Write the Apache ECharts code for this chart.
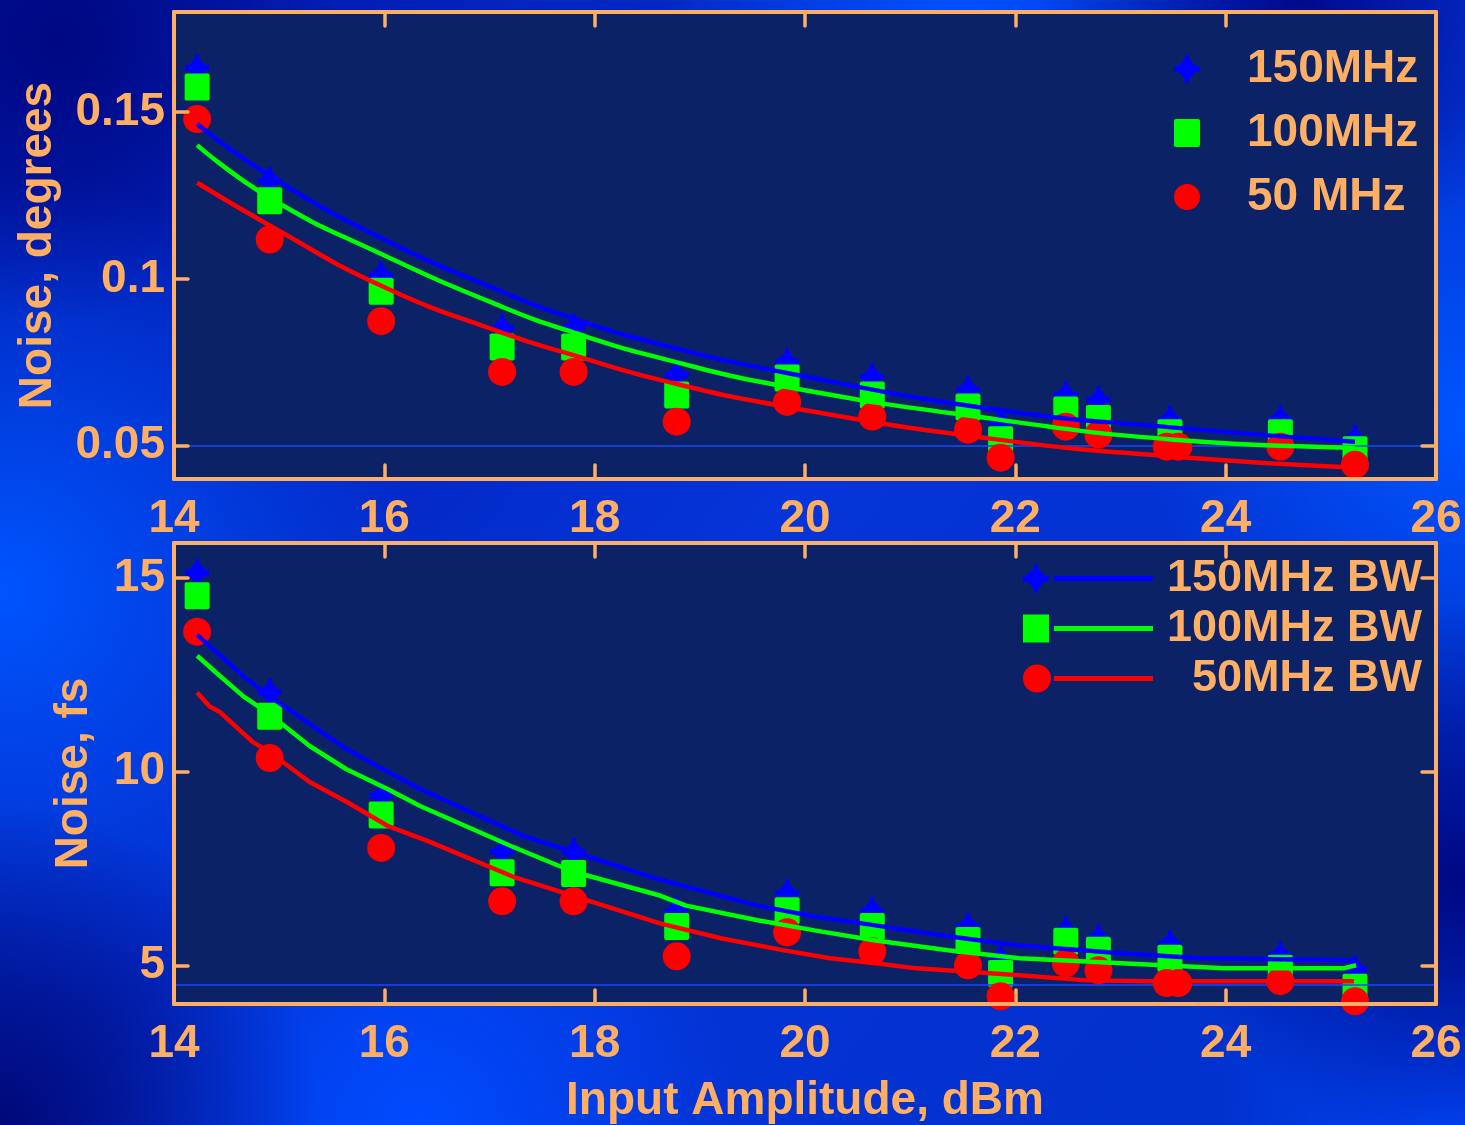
<!DOCTYPE html>
<html>
<head>
<meta charset="utf-8">
<script src="https://cdn.jsdelivr.net/npm/echarts@6/dist/echarts.min.js"></script>
<style>
html,body{margin:0;padding:0;background:#0530c8;}
#chart{width:1465px;height:1125px;}
</style>
</head>
<body>
<div id="chart"></div>
<script>
// ---------- data ----------
const xTickLabels = [14, 16, 18, 20, 22, 24, 26];
const topTickLabels = [0.05, 0.1, 0.15];
const topRightTicks = [0.05];
const botTickLabels = [5, 10, 15];

const names150 = '150MHz', names100 = '100MHz', names50 = '50 MHz';
const namesBW150 = '150MHz BW', namesBW100 = '100MHz BW', namesBW50 = '50MHz BW';

// measured points (shared x for 150 / 100 MHz)
const measX   = [14.22, 14.91, 15.97, 17.12, 17.80, 18.78, 19.83, 20.64, 21.55, 21.86, 22.48, 22.79, 23.47, 24.52, 25.23];
const meas50X = [14.22, 14.91, 15.97, 17.12, 17.80, 18.78, 19.83, 20.64, 21.55, 21.86, 22.48, 22.79, 23.44, 23.55, 24.52, 25.23];

// top panel: noise, degrees
const top150 = [0.1631, 0.1294, 0.1010, 0.0852, 0.0855, 0.0712, 0.0751, 0.0706, 0.0667, 0.0570, 0.0652, 0.0637, 0.0578, 0.0578, 0.0520];
const top100 = [0.1575, 0.1234, 0.0963, 0.0796, 0.0796, 0.0652, 0.0703, 0.0652, 0.0616, 0.0518, 0.0607, 0.0581, 0.0539, 0.0539, 0.0488];
const top50  = [0.1479, 0.1118, 0.0873, 0.0721, 0.0721, 0.0572, 0.0631, 0.0587, 0.0548, 0.0464, 0.0557, 0.0533, 0.0497, 0.0497, 0.0497, 0.0443];

// top panel fitted curves
const topFitX   = [14.22, 14.91, 15.96, 17.13, 17.79, 18.62, 19.83, 21.84, 23.51, 25.23];
const topFit150 = [0.1464, 0.1309, 0.1124, 0.0960, 0.0882, 0.0804, 0.0718, 0.0607, 0.0554, 0.0512];
const topFit100 = [0.1401, 0.1243, 0.1076, 0.0915, 0.0840, 0.0763, 0.0676, 0.0578, 0.0518, 0.0494];
const topFit50  = [0.1288, 0.1160, 0.0981, 0.0837, 0.0772, 0.0697, 0.0616, 0.0518, 0.0467, 0.0434];

// bottom panel: noise, fs
const bot150 = [15.13, 12.04, 9.37, 7.93, 7.93, 6.41, 6.85, 6.41, 6.00, 5.18, 5.90, 5.70, 5.55, 5.25, 4.90];
const bot100 = [14.54, 11.43, 8.88, 7.39, 7.37, 6.00, 6.41, 6.00, 5.64, 4.79, 5.62, 5.39, 5.18, 4.92, 4.43];
const bot50  = [13.61, 10.35, 8.03, 6.65, 6.65, 5.23, 5.85, 5.36, 5.00, 4.20, 5.05, 4.87, 4.54, 4.54, 4.59, 4.07];

// bottom panel fitted curves
const botFit150X = [14.22, 14.66, 14.91, 15.64, 15.99, 16.34, 17.32, 17.79, 18.62, 18.87, 19.55, 20.09, 20.67, 21.36, 22.04, 23.01, 23.76, 25.22];
const botFit150  = [13.53, 12.46, 11.94, 10.58, 10.06, 9.55, 8.34, 7.93, 7.21, 7.03, 6.54, 6.26, 6.03, 5.75, 5.51, 5.31, 5.18, 5.13];
const botFit100X = [14.22, 14.44, 14.66, 14.91, 15.29, 15.64, 16.03, 16.34, 17.22, 17.79, 18.62, 18.87, 19.55, 20.09, 20.67, 21.36, 22.04, 23.01, 23.99, 25.12, 25.24];
const botFit100  = [12.99, 12.46, 11.94, 11.48, 10.66, 10.06, 9.55, 9.11, 8.06, 7.42, 6.80, 6.54, 6.16, 5.90, 5.64, 5.39, 5.18, 5.05, 4.92, 4.92, 5.00];
const botFit50X  = [14.22, 14.34, 14.44, 14.75, 14.91, 15.29, 15.64, 16.03, 16.41, 17.22, 17.79, 18.62, 19.21, 19.79, 20.24, 20.67, 21.06, 21.45, 22.04, 22.68, 23.26, 25.22];
const botFit50   = [12.04, 11.68, 11.53, 10.76, 10.50, 9.73, 9.22, 8.60, 8.21, 7.29, 6.80, 6.08, 5.69, 5.39, 5.18, 5.05, 4.92, 4.85, 4.74, 4.61, 4.59, 4.59];

const topRefLine = 0.05;
const botRefLine = 4.5;

// ---------- styling ----------
const ORANGE = '#ffaf63';
const PLOT_BG = '#0b2366';
const C_BLUE = '#0000ff', C_GREEN = '#00ff00', C_RED = '#ff0000';
const FONT = '"Liberation Sans", Arial, sans-serif';

const starPath = 'path://M11,0 L15,0 L15,4 L22,11 L26,11 L26,17 L22,17 L15,24 L15,28 L11,28 L11,24 L4,17 L0,17 L0,11 L4,11 L11,4 Z';
const squarePath = 'path://M2,0 L24,0 Q26,0 26,2 L26,26 Q26,28 24,28 L2,28 Q0,28 0,26 L0,2 Q0,0 2,0 Z';
const barPart = ' M31,11.5 L130,11.5 L130,16.5 L31,16.5 Z';
const starBarPath = 'path://M11,0 L15,0 L15,4 L22,11 L26,11 L26,17 L22,17 L15,24 L15,28 L11,28 L11,24 L4,17 L0,17 L0,11 L4,11 L11,4 Z' + barPart;
const squareBarPath = 'path://M0,0 L26,0 L26,28 L0,28 Z' + barPart;
const circleBarPath = 'path://M0,14 A14,14 0 1,1 28,14 A14,14 0 1,1 0,14 Z' + barPart;

const pairs = (xs, ys) => xs.map((x, i) => [x, ys[i]]);

const axisLineStyle = { show: true, lineStyle: { color: ORANGE, width: 4 } };
const tickStyle = (vals) => ({ show: true, inside: true, length: 14, lineStyle: { color: ORANGE, width: 3.5, cap: 'round' }, customValues: vals });
const labelStyle = { color: ORANGE, fontFamily: FONT, fontWeight: 'bold', fontSize: 46 };

const grids = [
  { left: 174, width: 1262, top: 12, height: 467, show: true, backgroundColor: PLOT_BG, borderWidth: 0 },
  { left: 174, width: 1262, top: 543, height: 463, show: true, backgroundColor: PLOT_BG, borderWidth: 0 }
];

function xAxes(gridIndex, withName) {
  return [
    {
      type: 'value', gridIndex, position: 'bottom', min: 14, max: 26, interval: 2, z: 20,
      axisLine: axisLineStyle, axisTick: tickStyle(xTickLabels), splitLine: { show: false },
      axisLabel: Object.assign({ margin: 17, customValues: xTickLabels }, labelStyle),
      name: withName ? 'Input Amplitude, dBm' : '', nameLocation: 'middle', nameGap: 74,
      nameTextStyle: { color: ORANGE, fontFamily: FONT, fontWeight: 'bold', fontSize: 46 }
    },
    {
      type: 'value', gridIndex, position: 'top', min: 14, max: 26, interval: 2, z: 20,
      axisLine: axisLineStyle, axisTick: tickStyle(xTickLabels), splitLine: { show: false },
      axisLabel: { show: false }
    }
  ];
}
function yAxes(gridIndex, min, max, ticks, rightTicks, name, nameGap) {
  return [
    {
      type: 'value', gridIndex, position: 'left', min, max, z: 20,
      axisLine: axisLineStyle, axisTick: tickStyle(ticks), splitLine: { show: false },
      axisLabel: Object.assign({ margin: 9, customValues: ticks }, labelStyle),
      name, nameLocation: 'middle', nameGap, nameRotate: 90,
      nameTextStyle: { color: ORANGE, fontFamily: FONT, fontWeight: 'bold', fontSize: 46 }
    },
    {
      type: 'value', gridIndex, position: 'right', min, max, z: 20,
      axisLine: axisLineStyle, axisTick: tickStyle(rightTicks), splitLine: { show: false },
      axisLabel: { show: false }
    }
  ];
}

function scatter(name, xi, yi, xs, ys, symbol, size, color, z) {
  return {
    type: 'scatter', name, xAxisIndex: xi, yAxisIndex: yi, data: pairs(xs, ys),
    symbol, symbolSize: size, itemStyle: { color, opacity: 1 }, z, silent: true
  };
}
function fit(name, xi, yi, xs, ys, color, smooth, ref) {
  const s = {
    type: 'line', name, xAxisIndex: xi, yAxisIndex: yi, data: pairs(xs, ys),
    showSymbol: false, symbol: 'none', smooth, lineStyle: { color, width: 4.5 }, itemStyle: { color }, z: 10, silent: true
  };
  if (ref !== undefined) {
    s.markLine = {
      silent: true, symbol: ['none', 'none'], label: { show: false }, animation: false,
      lineStyle: { color: '#1749ff', width: 1.5, type: 'solid' },
      data: [{ yAxis: ref }]
    };
  }
  return s;
}

const option = {
  animation: false,
  backgroundColor: {
    type: 'linear', x: 0, y: 0, x2: 1, y2: 1,
    colorStops: [
      { offset: 0, color: '#0016a8' },
      { offset: 0.5, color: '#0534d8' },
      { offset: 1, color: '#0030c8' }
    ]
  },
  graphic: {
    elements: [
      { type: 'circle', z: -100, shape: { cx: 0, cy: 590, r: 420 }, style: { fill: { type: 'radial', x: 0.5, y: 0.5, r: 0.5, colorStops: [{ offset: 0, color: 'rgba(0,85,255,1)' }, { offset: 1, color: 'rgba(0,85,255,0)' }] } } },
      { type: 'circle', z: -100, shape: { cx: 960, cy: 0, r: 300 }, style: { fill: { type: 'radial', x: 0.5, y: 0.5, r: 0.5, colorStops: [{ offset: 0, color: 'rgba(0,80,255,1)' }, { offset: 1, color: 'rgba(0,80,255,0)' }] } } },
      { type: 'circle', z: -100, shape: { cx: 1465, cy: 420, r: 320 }, style: { fill: { type: 'radial', x: 0.5, y: 0.5, r: 0.5, colorStops: [{ offset: 0, color: 'rgba(0,85,255,1)' }, { offset: 1, color: 'rgba(0,85,255,0)' }] } } },
      { type: 'circle', z: -100, shape: { cx: 420, cy: 1125, r: 320 }, style: { fill: { type: 'radial', x: 0.5, y: 0.5, r: 0.5, colorStops: [{ offset: 0, color: 'rgba(0,75,255,1)' }, { offset: 1, color: 'rgba(0,75,255,0)' }] } } },
      { type: 'circle', z: -100, shape: { cx: 1465, cy: 1125, r: 260 }, style: { fill: { type: 'radial', x: 0.5, y: 0.5, r: 0.5, colorStops: [{ offset: 0, color: 'rgba(0,70,250,1)' }, { offset: 1, color: 'rgba(0,70,250,0)' }] } } },
      { type: 'circle', z: -99, shape: { cx: 60, cy: 40, r: 280 }, style: { fill: { type: 'radial', x: 0.5, y: 0.5, r: 0.5, colorStops: [{ offset: 0, color: 'rgba(0,8,130,1)' }, { offset: 1, color: 'rgba(0,8,130,0)' }] } } },
      { type: 'circle', z: -99, shape: { cx: 0, cy: 1125, r: 320 }, style: { fill: { type: 'radial', x: 0.5, y: 0.5, r: 0.5, colorStops: [{ offset: 0, color: 'rgba(0,8,120,1)' }, { offset: 1, color: 'rgba(0,8,120,0)' }] } } },
      { type: 'circle', z: -99, shape: { cx: 1465, cy: 880, r: 280 }, style: { fill: { type: 'radial', x: 0.5, y: 0.5, r: 0.5, colorStops: [{ offset: 0, color: 'rgba(0,8,130,1)' }, { offset: 1, color: 'rgba(0,8,130,0)' }] } } },
      { type: 'circle', z: -99, shape: { cx: 1300, cy: 0, r: 260 }, style: { fill: { type: 'radial', x: 0.5, y: 0.5, r: 0.5, colorStops: [{ offset: 0, color: 'rgba(0,10,140,1)' }, { offset: 1, color: 'rgba(0,10,140,0)' }] } } }
    ]
  },
  grid: grids,
  xAxis: [].concat(xAxes(0, false), xAxes(1, true)),
  yAxis: [].concat(
    yAxes(0, 0.04, 0.18, topTickLabels, topRightTicks, 'Noise, degrees', 113),
    yAxes(1, 4, 15.9, botTickLabels, botTickLabels, 'Noise, fs', 77)
  ),
  legend: [
    {
      orient: 'vertical', left: 1174, top: 46, itemGap: 18, itemWidth: 26, itemHeight: 28,
      selectedMode: false, padding: 0,
      data: [
        { name: names150, icon: starPath },
        { name: names100, icon: squarePath },
        { name: names50, icon: 'circle' }
      ],
      formatter: (n) => '{t|' + n + '}',
      textStyle: { rich: { t: { fontFamily: FONT, fontWeight: 'bold', fontSize: 46, color: ORANGE, lineHeight: 46, padding: [0, 0, 0, 42] } } }
    },
    {
      orient: 'vertical', left: 1023, top: 556, itemGap: 5, itemWidth: 130, itemHeight: 28,
      selectedMode: false, padding: 0,
      data: [
        { name: namesBW150, icon: starBarPath },
        { name: namesBW100, icon: squareBarPath },
        { name: namesBW50, icon: circleBarPath }
      ],
      formatter: (n) => '{t|' + n + '}',
      textStyle: { rich: { t: { fontFamily: FONT, fontWeight: 'bold', fontSize: 45, color: ORANGE, lineHeight: 46, width: 264, align: 'right' } } }
    }
  ],
  series: [
    scatter(names150, 0, 0, measX, top150, starPath, [24, 28], C_BLUE, 3),
    scatter(names100, 0, 0, measX, top100, squarePath, [25, 27], C_GREEN, 4),
    scatter(names50, 0, 0, meas50X, top50, 'circle', 28, C_RED, 5),
    fit('fit150', 0, 0, topFitX, topFit150, C_BLUE, true, topRefLine),
    fit('fit100', 0, 0, topFitX, topFit100, C_GREEN, true),
    fit('fit50', 0, 0, topFitX, topFit50, C_RED, true),

    scatter(namesBW150, 2, 2, measX, bot150, starPath, [24, 28], C_BLUE, 3),
    scatter(namesBW100, 2, 2, measX, bot100, squarePath, [25, 27], C_GREEN, 4),
    scatter(namesBW50, 2, 2, meas50X, bot50, 'circle', 28, C_RED, 5),
    fit('fitBW150', 2, 2, botFit150X, botFit150, C_BLUE, false, botRefLine),
    fit('fitBW100', 2, 2, botFit100X, botFit100, C_GREEN, false),
    fit('fitBW50', 2, 2, botFit50X, botFit50, C_RED, false)
  ]
};

const chart = echarts.init(document.getElementById('chart'), null, { renderer: 'canvas' });
chart.setOption(option);
</script>
</body>
</html>
